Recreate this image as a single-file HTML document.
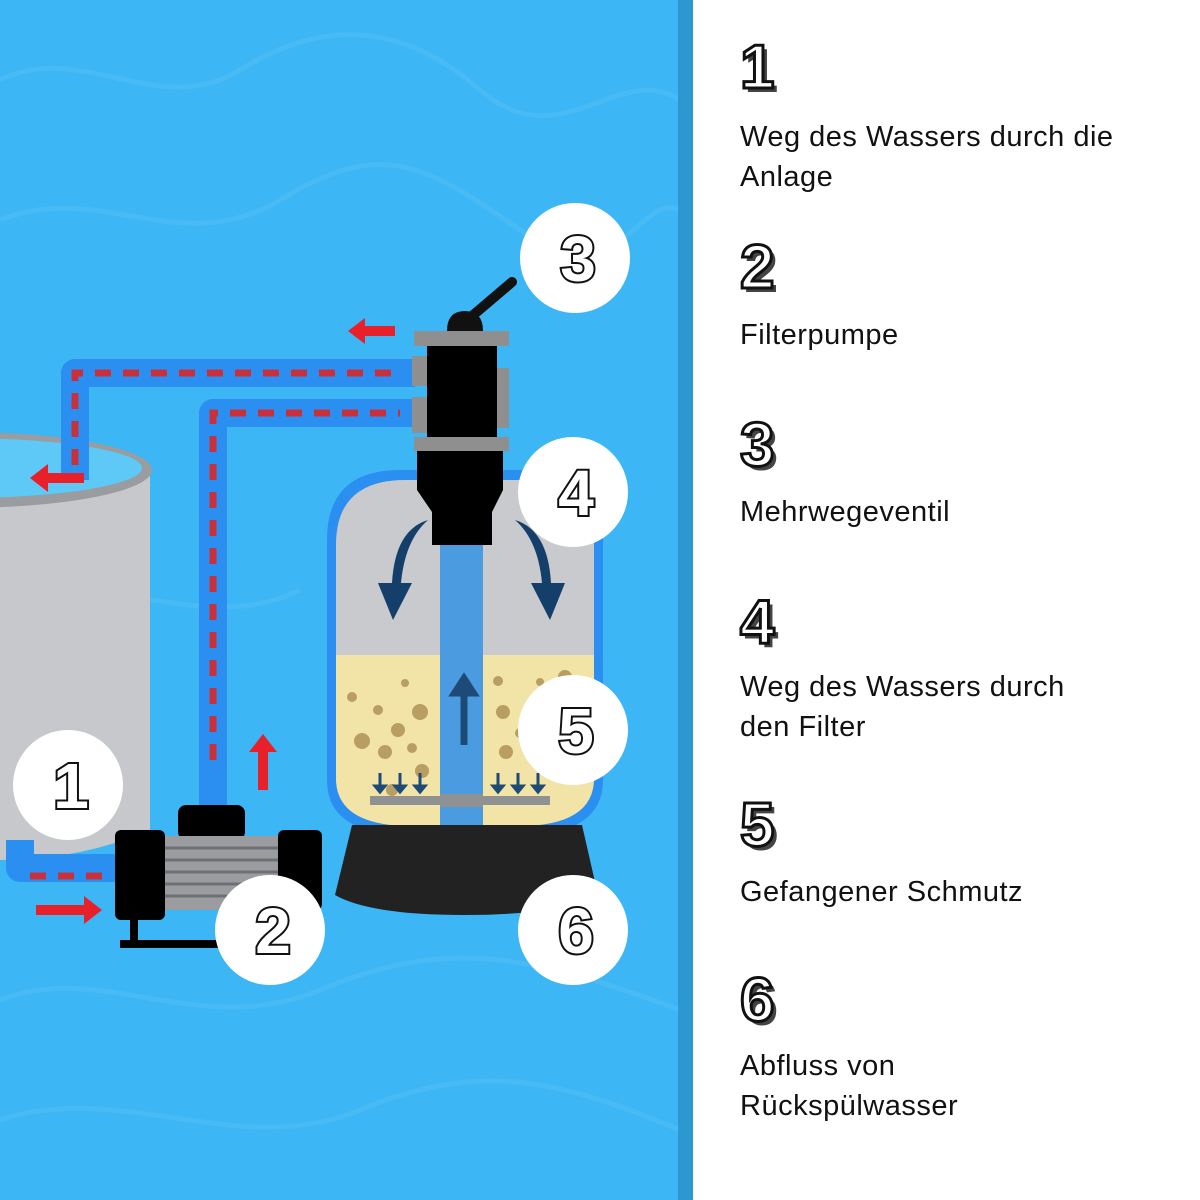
<!DOCTYPE html>
<html><head><meta charset="utf-8"><style>
html,body{margin:0;padding:0;width:1200px;height:1200px;overflow:hidden;background:#fff;}
.t{position:absolute;left:740px;font-family:"Liberation Sans",sans-serif;font-size:29px;color:#111;line-height:40px;letter-spacing:0.5px}
.n{position:absolute;left:740px;font-family:"Liberation Sans",sans-serif;font-weight:bold;font-size:62px;color:#fff;-webkit-text-stroke:3px #111;text-shadow:4px 4px 0 #444}
</style></head><body>
<svg width="1200" height="1200" style="position:absolute;left:0;top:0" xmlns="http://www.w3.org/2000/svg">
<rect x="0" y="0" width="680" height="1200" fill="#3cb6f4"/>
<g fill="none" stroke="#5cc4f6" stroke-width="5" opacity="0.4">
<path d="M0 80 C80 40 160 120 240 70 S400 20 480 90 S620 60 680 100"/>
<path d="M0 220 C100 180 180 260 280 200 S420 160 520 230 S640 190 680 210"/>
<path d="M0 600 C90 560 200 640 300 590"/>
<path d="M0 1000 C100 960 200 1040 320 990 S520 950 680 1010"/>
<path d="M0 1120 C120 1080 240 1160 360 1110 S560 1080 680 1130"/>
</g>
<rect x="678" y="0" width="15" height="1200" fill="#2b98d2"/>
<!-- pool -->
<path d="M0 470 L150 470 L150 830 Q80 860 0 860 Z" fill="#c6c8cc"/>
<ellipse cx="-40" cy="470" rx="192" ry="38" fill="#9a9ca0"/>
<ellipse cx="-40" cy="468" rx="182" ry="30" fill="#5ec8f6"/>
<!-- pipes -->
<g fill="none" stroke="#2a8ff0" stroke-width="28" stroke-linejoin="round">
<path d="M75 480 L75 373 L415 373"/>
<path d="M213 815 L213 413 L415 413"/>
<path d="M20 840 L20 868 L120 868"/>
</g>
<g fill="none" stroke="#c8303c" stroke-width="7" stroke-dasharray="16 12">
<path d="M75 465 L75 373 L400 373"/>
<path d="M213 760 L213 413 L400 413"/>
<path d="M30 876 L110 876"/>
</g>
<!-- red arrows -->
<g fill="#e8202a">
<path d="M395 326 L365 326 L365 318 L348 331 L365 344 L365 336 L395 336Z"/>
<path d="M84 473 L48 473 L48 464 L30 478 L48 492 L48 483 L84 483Z"/>
<path d="M36 905 L84 905 L84 896 L102 910 L84 924 L84 915 L36 915Z"/>
<path d="M258 790 L258 752 L249 752 L263 734 L277 752 L268 752 L268 790Z"/>
</g>
<!-- tank -->
<path d="M327 540 Q327 470 400 470 L530 470 Q603 470 603 540 L603 780 Q603 835 520 835 L410 835 Q327 835 327 780Z" fill="#2a8ff0"/>
<path d="M336 545 Q336 480 405 480 L525 480 Q594 480 594 545 L594 778 Q594 826 518 826 L412 826 Q336 826 336 778Z" fill="#c8cacd"/>
<path d="M336 655 L594 655 L594 778 Q594 826 518 826 L412 826 Q336 826 336 778Z" fill="#f1e4a6"/>
<g fill="#b99e62">
<circle cx="352" cy="697" r="5"/><circle cx="362" cy="741" r="8"/><circle cx="385" cy="752" r="7"/><circle cx="378" cy="710" r="5"/><circle cx="398" cy="730" r="7"/><circle cx="412" cy="748" r="5"/><circle cx="420" cy="712" r="8"/><circle cx="405" cy="683" r="4"/><circle cx="422" cy="771" r="7"/><circle cx="392" cy="790" r="6"/>
<circle cx="498" cy="681" r="5"/><circle cx="503" cy="712" r="7"/><circle cx="520" cy="733" r="5"/><circle cx="540" cy="682" r="4"/><circle cx="565" cy="677" r="7"/><circle cx="506" cy="752" r="7"/><circle cx="560" cy="760" r="5"/>
</g>
<rect x="440" y="545" width="43" height="281" fill="#4a9be0"/>
<rect x="370" y="796" width="180" height="9" fill="#8f9193"/>
<rect x="440" y="794" width="43" height="13" fill="#8f9193"/>
<g fill="#1e4a78" stroke="#1e4a78" stroke-width="3">
<path d="M464 745 L464 690" stroke-width="7"/><path d="M451 695 L464 675 L477 695Z"/>
<path d="M380 773 L380 788 M400 773 L400 788 M420 773 L420 788 M498 773 L498 788 M518 773 L518 788 M538 773 L538 788"/>
<path d="M375 786 L380 792 L385 786Z M395 786 L400 792 L405 786Z M415 786 L420 792 L425 786Z M493 786 L498 792 L503 786Z M513 786 L518 792 L523 786Z M533 786 L538 792 L543 786Z"/>
</g>
<g fill="#153f6b">
<path d="M428 520 Q395 530 392 583 L378 583 L393 620 L412 583 L401 583 Q405 540 428 520Z"/>
<path d="M515 520 Q548 530 551 583 L565 583 L550 620 L531 583 L542 583 Q538 540 515 520Z"/>
</g>
<!-- base -->
<path d="M352 825 L582 825 L598 895 Q560 915 465 915 Q370 915 335 895Z" fill="#222"/>
<!-- valve -->
<path d="M465 322 L512 282" stroke="#111" stroke-width="10" stroke-linecap="round"/>
<path d="M447 331 Q447 311 465 311 Q483 311 483 331Z" fill="#111"/>
<rect x="414" y="331" width="95" height="15" fill="#8f8f8f"/>
<rect x="412" y="356" width="16" height="30" fill="#8f8f8f"/>
<rect x="412" y="397" width="16" height="36" fill="#8f8f8f"/>
<rect x="496" y="368" width="13" height="60" fill="#8f8f8f"/>
<rect x="427" y="346" width="70" height="91" fill="#000"/>
<rect x="414" y="437" width="95" height="14" fill="#8f8f8f"/>
<path d="M417 451 L503 451 L503 490 L492 512 L492 545 L432 545 L432 512 L417 490Z" fill="#000"/>
<!-- pump -->
<rect x="178" y="805" width="67" height="35" rx="8" fill="#000"/>
<rect x="160" y="836" width="128" height="74" fill="#9a9c9f"/>
<g stroke="#6e7174" stroke-width="3"><path d="M160 848 H288 M160 860 H288 M160 872 H288 M160 884 H288 M160 896 H288"/></g>
<rect x="115" y="830" width="50" height="90" rx="6" fill="#000"/>
<rect x="278" y="830" width="44" height="80" rx="6" fill="#000"/>
<rect x="130" y="918" width="8" height="24" fill="#000"/>
<rect x="120" y="940" width="140" height="8" fill="#000"/>
<!-- circles -->
<g fill="#fff"><circle cx="575" cy="258" r="55"/><circle cx="573" cy="492" r="55"/><circle cx="573" cy="730" r="55"/><circle cx="573" cy="930" r="55"/><circle cx="270" cy="930" r="55"/><circle cx="68" cy="785" r="55"/></g>
<g font-family="Liberation Sans,sans-serif" font-weight="bold" font-size="64" fill="#fff" stroke="#111" stroke-width="4" text-anchor="middle" style="paint-order:stroke">
<text x="578" y="281">3</text>
<text x="576" y="515">4</text>
<text x="576" y="753">5</text>
<text x="576" y="953">6</text>
<text x="273" y="953">2</text>
<text x="71" y="808">1</text>
</g>
</svg>
<div class="n" style="top:32px">1</div>
<div class="t" style="top:117px">Weg des Wassers durch die<br>Anlage</div>
<div class="n" style="top:232px">2</div>
<div class="t" style="top:315px">Filterpumpe</div>
<div class="n" style="top:410px">3</div>
<div class="t" style="top:492px">Mehrwegeventil</div>
<div class="n" style="top:587px">4</div>
<div class="t" style="top:667px">Weg des Wassers durch<br>den Filter</div>
<div class="n" style="top:790px">5</div>
<div class="t" style="top:872px">Gefangener Schmutz</div>
<div class="n" style="top:965px">6</div>
<div class="t" style="top:1046px">Abfluss von<br>Rückspülwasser</div>
</body></html>
